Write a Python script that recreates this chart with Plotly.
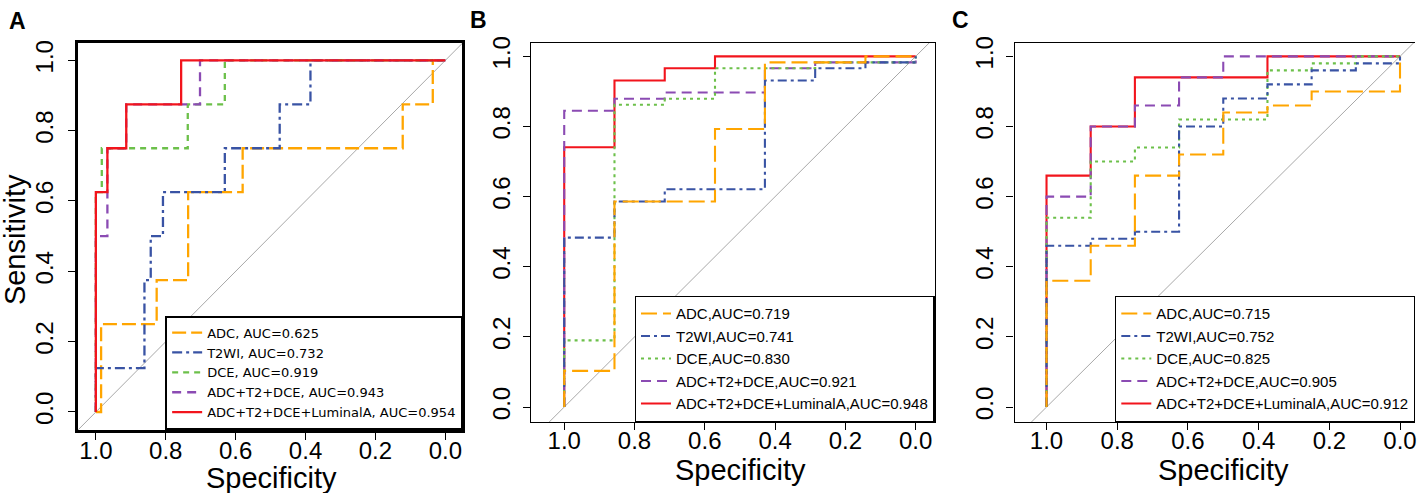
import plotly.graph_objects as go

W, H = 1417, 493

# --- data (specificity, sensitivity) ---
A_LABELS = ["ADC, AUC=0.625", "T2WI, AUC=0.732", "DCE, AUC=0.919",
            "ADC+T2+DCE, AUC=0.943", "ADC+T2+DCE+LuminalA, AUC=0.954"]
B_LABELS = ["ADC,AUC=0.719", "T2WI,AUC=0.741", "DCE,AUC=0.830",
            "ADC+T2+DCE,AUC=0.921", "ADC+T2+DCE+LuminalA,AUC=0.948"]
C_LABELS = ["ADC,AUC=0.715", "T2WI,AUC=0.752", "DCE,AUC=0.825",
            "ADC+T2+DCE,AUC=0.905", "ADC+T2+DCE+LuminalA,AUC=0.912"]

a_adc_spec = [1.0, 0.985, 0.985, 0.826, 0.826, 0.736, 0.736, 0.580, 0.580, 0.122, 0.122, 0.036, 0.036, 0.0]
a_adc_sens = [0.0, 0.0, 0.25, 0.25, 0.375, 0.375, 0.625, 0.625, 0.75, 0.75, 0.875, 0.875, 1.0, 1.0]
a_t2_spec = [1.0, 1.0, 0.861, 0.861, 0.843, 0.843, 0.808, 0.808, 0.631, 0.631, 0.474, 0.474, 0.386, 0.386, 0.0]
a_t2_sens = [0.0, 0.125, 0.125, 0.375, 0.375, 0.5, 0.5, 0.625, 0.625, 0.75, 0.75, 0.875, 0.875, 1.0, 1.0]
a_dce_spec = [1.0, 1.0, 0.983, 0.983, 0.737, 0.737, 0.631, 0.631, 0.0]
a_dce_sens = [0.0, 0.625, 0.625, 0.75, 0.75, 0.875, 0.875, 1.0, 1.0]
a_comb_spec = [1.0, 1.0, 0.967, 0.967, 0.913, 0.913, 0.702, 0.702, 0.0]
a_comb_sens = [0.0, 0.5, 0.5, 0.75, 0.75, 0.875, 0.875, 1.0, 1.0]
a_lum_spec = [1.0, 1.0, 0.967, 0.967, 0.913, 0.913, 0.756, 0.756, 0.0]
a_lum_sens = [0.0, 0.625, 0.625, 0.75, 0.75, 0.875, 0.875, 1.0, 1.0]

b_adc_spec = [1.0, 1.0, 0.857, 0.857, 0.571, 0.571, 0.429, 0.429, 0.143, 0.143, 0.0]
b_adc_sens = [0.0, 0.103, 0.103, 0.586, 0.586, 0.793, 0.793, 0.983, 0.983, 1.0, 1.0]
b_t2_spec = [1.0, 1.0, 0.857, 0.857, 0.714, 0.714, 0.429, 0.429, 0.286, 0.286, 0.143, 0.143, 0.0, 0.0]
b_t2_sens = [0.0, 0.483, 0.483, 0.586, 0.586, 0.621, 0.621, 0.931, 0.931, 0.966, 0.966, 0.983, 0.983, 1.0]
b_dce_spec = [1.0, 1.0, 0.857, 0.857, 0.714, 0.714, 0.571, 0.571, 0.286, 0.286, 0.0, 0.0]
b_dce_sens = [0.0, 0.190, 0.190, 0.862, 0.862, 0.879, 0.879, 0.966, 0.966, 0.983, 0.983, 1.0]
b_comb_spec = [1.0, 1.0, 0.857, 0.857, 0.714, 0.714, 0.429, 0.429, 0.286, 0.286, 0.0, 0.0]
b_comb_sens = [0.0, 0.845, 0.845, 0.879, 0.879, 0.897, 0.897, 0.966, 0.966, 0.983, 0.983, 1.0]
b_lum_spec = [1.0, 1.0, 0.857, 0.857, 0.714, 0.714, 0.571, 0.571, 0.0]
b_lum_sens = [0.0, 0.741, 0.741, 0.931, 0.931, 0.966, 0.966, 1.0, 1.0]

c_adc_spec = [1.0, 1.0, 0.875, 0.875, 0.75, 0.75, 0.625, 0.625, 0.5, 0.5, 0.375, 0.375, 0.25, 0.25, 0.0, 0.0]
c_adc_sens = [0.0, 0.36, 0.36, 0.46, 0.46, 0.66, 0.66, 0.72, 0.72, 0.84, 0.84, 0.86, 0.86, 0.90, 0.90, 1.0]
c_t2_spec = [1.0, 1.0, 0.875, 0.875, 0.75, 0.75, 0.625, 0.625, 0.5, 0.5, 0.375, 0.375, 0.25, 0.25, 0.125, 0.125, 0.0, 0.0]
c_t2_sens = [0.0, 0.46, 0.46, 0.48, 0.48, 0.50, 0.50, 0.80, 0.80, 0.88, 0.88, 0.92, 0.92, 0.96, 0.96, 0.98, 0.98, 1.0]
c_dce_spec = [1.0, 1.0, 0.875, 0.875, 0.75, 0.75, 0.625, 0.625, 0.375, 0.375, 0.25, 0.25, 0.125, 0.125, 0.0]
c_dce_sens = [0.0, 0.54, 0.54, 0.70, 0.70, 0.74, 0.74, 0.82, 0.82, 0.96, 0.96, 0.98, 0.98, 1.0, 1.0]
c_comb_spec = [1.0, 1.0, 0.875, 0.875, 0.75, 0.75, 0.625, 0.625, 0.5, 0.5, 0.0]
c_comb_sens = [0.0, 0.60, 0.60, 0.80, 0.80, 0.86, 0.86, 0.94, 0.94, 1.0, 1.0]
c_lum_spec = [1.0, 1.0, 0.875, 0.875, 0.75, 0.75, 0.375, 0.375, 0.0]
c_lum_sens = [0.0, 0.66, 0.66, 0.80, 0.80, 0.94, 0.94, 1.0, 1.0]

TICKS = [0.0, 0.2, 0.4, 0.6, 0.8, 1.0]

COLORS = ["#FFA500", "#3953A4", "#6CC04A", "#8B4BB3", "#F2141C"]
DASH_A = ["14px,5px", "10px,4px,3px,4px", "6px,5px", "9px,6px", "solid"]
DASH_BC = ["16px,6px", "9px,4px,3px,4px", "3px,4px", "10px,6px", "solid"]


def px_x(p):
    return p / W


def px_y(p):
    return 1 - p / H


fig = go.Figure()

panels = [
    # suffix, curves, labels, dashes, red on top?, legend font
    ("", [(a_adc_spec, a_adc_sens), (a_t2_spec, a_t2_sens), (a_dce_spec, a_dce_sens),
          (a_comb_spec, a_comb_sens), (a_lum_spec, a_lum_sens)],
     A_LABELS, DASH_A, True, "DejaVu Sans", 13),
    ("2", [(b_adc_spec, b_adc_sens), (b_t2_spec, b_t2_sens), (b_dce_spec, b_dce_sens),
           (b_comb_spec, b_comb_sens), (b_lum_spec, b_lum_sens)],
     B_LABELS, DASH_BC, False, "Liberation Sans", 15),
    ("3", [(c_adc_spec, c_adc_sens), (c_t2_spec, c_t2_sens), (c_dce_spec, c_dce_sens),
           (c_comb_spec, c_comb_sens), (c_lum_spec, c_lum_sens)],
     C_LABELS, DASH_BC, False, "Liberation Sans", 15),
]

for suffix, curves, labels, dashes, red_top, lfont, lsize in panels:
    xa, ya = "x" + suffix, "y" + suffix
    leg = "legend" + suffix
    # chance line
    fig.add_trace(go.Scatter(x=[1.3, -0.3], y=[-0.3, 1.3], mode="lines",
                             line=dict(color="#A8A8A8", width=1),
                             xaxis=xa, yaxis=ya, showlegend=False, hoverinfo="skip"))
    order = range(5) if red_top else range(4, -1, -1)
    for i in order:
        sx, sy = curves[i]
        fig.add_trace(go.Scatter(
            x=sx, y=sy, mode="lines", name=labels[i],
            line=dict(color=COLORS[i], width=2.3 if red_top else 2.1, dash=dashes[i]),
            xaxis=xa, yaxis=ya, legend=leg, legendrank=i + 1,
        ))

geo = {
    "": dict(x0=78, x1=463, y0=37, y1=429, xr=[1.0514, -0.0486], yr=[-0.0506, 1.0506],
             lw=2.5, xso=-9, yso=6),
    "2": dict(x0=532, x1=936, y0=37, y1=421, xr=[1.0938, -0.054], yr=[-0.0423, 1.0394],
              lw=1.3, xso=-10, yso=4),
    "3": dict(x0=1016, x1=1417, y0=37, y1=421, xr=[1.0904, -0.0424], yr=[-0.0423, 1.0394],
              lw=1.3, xso=-10, yso=4),
}

tickfont = dict(family="Liberation Sans, Arial", size=24, color="black")
for suffix, g in geo.items():
    xkey = "xaxis" + suffix
    ykey = "yaxis" + suffix
    fig.update_layout({
        xkey: dict(domain=[px_x(g["x0"]), px_x(g["x1"])], range=g["xr"],
                   anchor="y" + suffix, tickvals=TICKS, tickformat=".1f",
                   ticks="outside", ticklen=7, tickwidth=1.3, tickcolor="black",
                   ticklabelstandoff=g["xso"], ticklabeloverflow="allow",
                   showline=True, mirror=True, linecolor="black", linewidth=g["lw"],
                   showgrid=False, zeroline=False, tickfont=tickfont, fixedrange=True),
        ykey: dict(domain=[px_y(g["y1"]), px_y(g["y0"])], range=g["yr"],
                   anchor="x" + suffix, tickvals=TICKS, tickformat=".1f", tickangle=-90,
                   ticks="outside", ticklen=7, tickwidth=1.3, tickcolor="black",
                   ticklabelstandoff=g["yso"],
                   showline=True, mirror=(suffix != "3"), linecolor="black", linewidth=g["lw"],
                   showgrid=False, zeroline=False, tickfont=tickfont, fixedrange=True),
    })

for suffix, curves, labels, dashes, red_top, lfont, lsize in panels:
    g = geo[suffix]
    fig.update_layout({
        "legend" + suffix: dict(
            x=px_x(g["x1"]), xanchor="right", y=px_y(g["y1"]), yanchor="bottom",
            bgcolor="white", bordercolor="black", borderwidth=1.3 if suffix else 1.8,
            font=dict(family=lfont, size=lsize, color="black"),
            traceorder="normal", itemwidth=30,
        )
    })

title_font = dict(family="Liberation Sans, Arial", size=29, color="black")
letter_font = dict(family="Liberation Sans, Arial", size=23, color="black")
annotations = [
    dict(text="Specificity", x=px_x(272), y=px_y(478), font=title_font),
    dict(text="Specificity", x=px_x(742), y=px_y(470), font=title_font),
    dict(text="Specificity", x=px_x(1225), y=px_y(470), font=title_font),
    dict(text="Sensitivity", x=px_x(15), y=px_y(236), textangle=-90, font=title_font),
    dict(text="<b>A</b>", x=px_x(18), y=px_y(15), font=letter_font),
    dict(text="<b>B</b>", x=px_x(479), y=px_y(14), font=letter_font),
    dict(text="<b>C</b>", x=px_x(962), y=px_y(14), font=letter_font),
]
for a in annotations:
    a.update(xref="paper", yref="paper", showarrow=False, xanchor="center", yanchor="middle")

fig.update_layout(
    width=W, height=H, margin=dict(l=0, r=0, t=0, b=0),
    paper_bgcolor="white", plot_bgcolor="white",
    font=dict(family="Liberation Sans, Arial", color="black"),
    annotations=annotations, hovermode="closest",
)

# drop the browser's default 8px body margin so the figure sits at the window origin
fig.write_html("out.html", config={"displayModeBar": False},
               post_script="document.body.style.margin='0';")
